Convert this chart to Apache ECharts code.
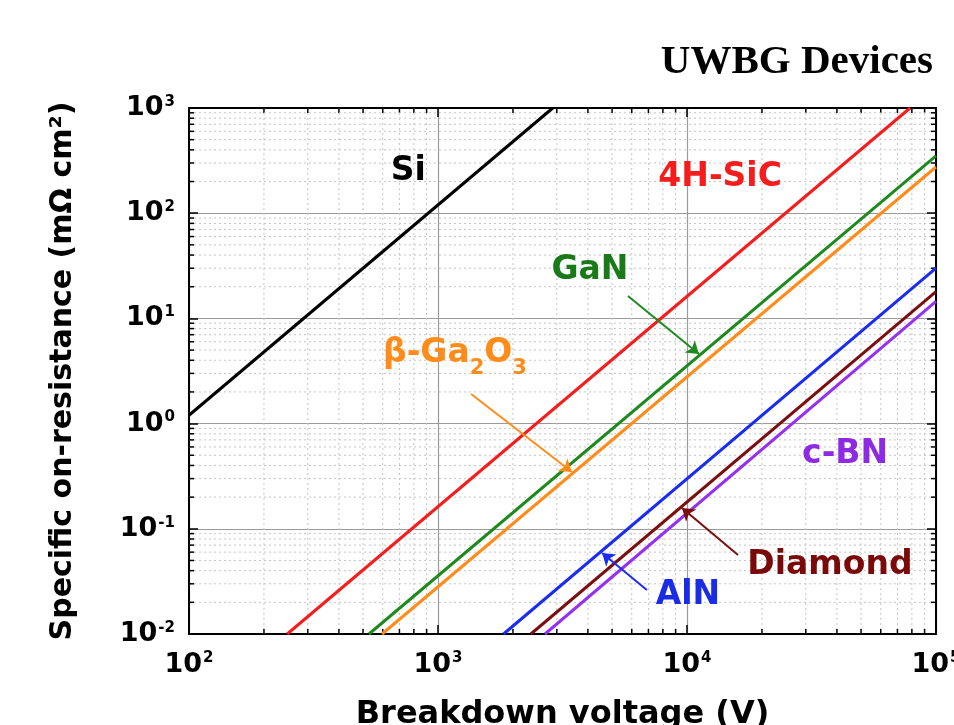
<!DOCTYPE html>
<html><head><meta charset="utf-8">
<script src="https://cdn.jsdelivr.net/npm/echarts@6/dist/echarts.min.js"></script>
<style>html,body{margin:0;padding:0;background:#fff;overflow:hidden}#c{width:954px;height:725px}</style>
</head><body><div id="c"></div>
<script>
// ---- data ----
const materials   = ['Si', '4H-SiC', 'GaN', 'β-Ga2O3', 'AlN', 'Diamond', 'c-BN'];
const voltageStart = [100, 248, 528, 596, 1833, 2360, 2690];
const ronStart     = [1.2, 0.01, 0.01, 0.01, 0.01, 0.01, 0.01];
const voltageEnd   = [2890, 78700, 100000, 100000, 100000, 100000, 100000];
const ronEnd       = [1000, 1000, 350, 275, 30, 18, 14.5];
// label anchor points (data space)
const labelVoltage = [759, 13580, 4074, 1170, 10090, 37500, 43150];
const labelRon     = [247, 221, 28.8, 4.2, 0.0235, 0.0453, 0.504];
// arrows (data space) : [fromV, fromR, toV, toR] or null
const arrowGaN     = [5794, 16.3, 11170, 4.59];
const arrowGa2O3   = [1358, 1.91, 3451, 0.347];
const arrowAlN     = [6900, 0.0262, 4560, 0.0589];
const arrowDiamond = [16030, 0.0564, 9550, 0.158];
const arrows = [null, null, arrowGaN, arrowGa2O3, arrowAlN, arrowDiamond, null];
// axes
const xMajorTicks = [100, 1000, 10000, 100000];
const yMajorTicks = [0.01, 0.1, 1, 10, 100, 1000];
const minorMultipliers = [2, 3, 4, 5, 6, 7, 8, 9];

// ---- styles ----
const lineColors  = ['#000000', '#f41c1c', '#1e8a1e', '#ff8c1a', '#1a2cf0', '#7b0e0e', '#9530f0'];
const labelColors = ['#000000', '#f41c1c', '#1a7a1a', '#ff8c1a', '#1a2ce6', '#7a0a0a', '#8e2be2'];
const FONT = '"DejaVu Sans", "Liberation Sans", sans-serif';

function supFormatter(v) {
  const e = Math.round(Math.log10(v));
  return '{b|10}{s|' + e + '}';
}
const supRich = {
  b: { fontFamily: FONT, fontWeight: 'bold', fontSize: 27, color: '#000', lineHeight: 27, padding: [5, 0, 0, 0], verticalAlign: 'bottom' },
  s: { fontFamily: FONT, fontWeight: 'bold', fontSize: 15, color: '#000', lineHeight: 15, verticalAlign: 'top', padding: [0, 0, 0, 1] }
};

const lineSeries = materials.map((m, i) => {
  const s = {
    name: m, type: 'line', z: 3,
    data: [[voltageStart[i], ronStart[i]], [voltageEnd[i], ronEnd[i]]],
    showSymbol: false, symbol: 'none',
    lineStyle: { color: lineColors[i], width: 3 },
    itemStyle: { color: lineColors[i] },
    clip: true, silent: true
  };
  const a = arrows[i];
  if (a) {
    s.markLine = {
      silent: true, symbol: ['none', 'arrow'], symbolSize: 12,
      label: { show: false },
      lineStyle: { color: lineColors[i], width: 2, type: 'solid', opacity: 1 },
      data: [[{ coord: [a[0], a[1]] }, { coord: [a[2], a[3]] }]]
    };
  }
  return s;
});

const labelItems = materials.map((m, i) => {
  let fmt = m;
  if (m === 'β-Ga2O3') fmt = '{m|β-Ga}{d|2}{m|O}{d|3}';
  return {
    value: [labelVoltage[i], labelRon[i]], name: m,
    label: {
      show: true, position: 'inside', formatter: fmt, opacity: 1,
      color: labelColors[i], fontFamily: FONT, fontWeight: 'bold', fontSize: 33,
      rich: {
        m: { color: labelColors[i], fontFamily: FONT, fontWeight: 'bold', fontSize: 33, verticalAlign: 'top' },
        d: { color: labelColors[i], fontFamily: FONT, fontWeight: 'bold', fontSize: 21, verticalAlign: 'top', padding: [21, 0, 0, 0] }
      }
    }
  };
});

const minorData = [];
for (let k = 0; k < xMajorTicks.length - 1; k++)
  minorMultipliers.forEach(mm => minorData.push([xMajorTicks[k] * mm, 1, 0]));
for (let k = 0; k < yMajorTicks.length - 1; k++)
  minorMultipliers.forEach(mm => minorData.push([1000, yMajorTicks[k] * mm, 1]));

function renderMinor(params, api) {
  const cs = params.coordSys;
  const flag = api.value(2);
  const p = api.coord([api.value(0), api.value(1)]);
  const gs = { stroke: '#c4c4c4', lineWidth: 1, lineDash: [2, 3] };
  const ts = { stroke: '#000', lineWidth: 1.5 };
  if (flag === 0) {
    const x = p[0];
    return { type: 'group', children: [
      { type: 'line', shape: { x1: x, y1: cs.y, x2: x, y2: cs.y + cs.height }, style: gs },
      { type: 'line', shape: { x1: x, y1: cs.y + cs.height, x2: x, y2: cs.y + cs.height - 5 }, style: ts },
      { type: 'line', shape: { x1: x, y1: cs.y, x2: x, y2: cs.y + 5 }, style: ts }
    ]};
  }
  const y = p[1];
  return { type: 'group', children: [
    { type: 'line', shape: { x1: cs.x, y1: y, x2: cs.x + cs.width, y2: y }, style: gs },
    { type: 'line', shape: { x1: cs.x, y1: y, x2: cs.x + 5, y2: y }, style: ts },
    { type: 'line', shape: { x1: cs.x + cs.width, y1: y, x2: cs.x + cs.width - 5, y2: y }, style: ts }
  ]};
}

const axisLine = { show: true, onZero: false, lineStyle: { color: '#000', width: 2 } };
const axisTick = { show: true, inside: true, length: 9, lineStyle: { color: '#000', width: 1.5 } };

const option = {
  animation: false,
  backgroundColor: '#fff',
  grid: { left: 189, right: 18, top: 108, bottom: 91, containLabel: false, outerBoundsMode: 'none' },
  title: {
    text: 'UWBG Devices', right: 16, top: 37,
    textStyle: { fontFamily: '"Liberation Serif", "DejaVu Serif", serif', fontWeight: 'bold', fontSize: 41, color: '#000' }
  },
  xAxis: [
    { type: 'log', logBase: 10, min: xMajorTicks[0], max: xMajorTicks[xMajorTicks.length - 1], splitNumber: 3,
      name: 'Breakdown voltage (V)', nameLocation: 'middle', nameGap: 65,
      nameTextStyle: { fontFamily: FONT, fontWeight: 'bold', fontSize: 32, color: '#000' },
      axisLine, axisTick,
      axisLabel: { margin: 17, formatter: supFormatter, rich: supRich },
      splitLine: { show: true, lineStyle: { color: '#9a9a9a', width: 1.2 } } },
    { type: 'log', logBase: 10, min: xMajorTicks[0], max: xMajorTicks[xMajorTicks.length - 1], splitNumber: 3,
      position: 'top', axisLine, axisTick, axisLabel: { show: false }, splitLine: { show: false } }
  ],
  yAxis: [
    { type: 'log', logBase: 10, min: yMajorTicks[0], max: yMajorTicks[yMajorTicks.length - 1], splitNumber: 5,
      name: 'Specific on-resistance (mΩ cm²)', nameLocation: 'middle', nameGap: 111,
      nameTextStyle: { fontFamily: FONT, fontWeight: 'bold', fontSize: 30, color: '#000' },
      axisLine, axisTick,
      axisLabel: { margin: 14, formatter: supFormatter, rich: supRich, padding: [0, 0, 0, 0] },
      splitLine: { show: true, lineStyle: { color: '#9a9a9a', width: 1.2 } } },
    { type: 'log', logBase: 10, min: yMajorTicks[0], max: yMajorTicks[yMajorTicks.length - 1], splitNumber: 5,
      position: 'right', axisLine, axisTick, axisLabel: { show: false }, splitLine: { show: false } }
  ],
  series: [
    { type: 'custom', name: 'minor', z: 1, silent: true, renderItem: renderMinor, data: minorData, clip: false },
    ...lineSeries,
    { type: 'scatter', name: 'labels', z: 5, silent: true, symbolSize: 1,
      itemStyle: { color: 'rgba(0,0,0,0)', opacity: 1 }, data: labelItems }
  ]
};
const chart = echarts.init(document.getElementById('c'), null, { renderer: 'canvas' });
chart.setOption(option);
</script></body></html>
